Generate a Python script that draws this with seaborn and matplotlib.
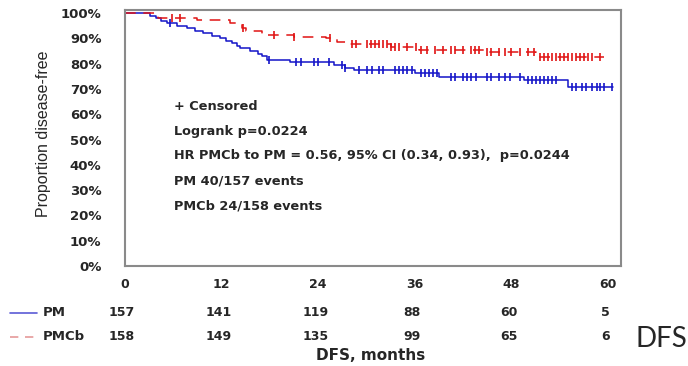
import numpy as np
import pandas as pd
import matplotlib
matplotlib.use("Agg")
import matplotlib.pyplot as plt
import seaborn as sns

# Kaplan-Meier step points (month, proportion disease-free, %)
pm_time = [0, 3.1, 3.8, 4.5, 5.2, 6.5, 7.7, 8.7, 9.7, 10.8, 11.8, 12.6, 13.3, 13.9,
           14.3, 15.5, 16.5, 17.0, 17.6, 20.5, 26.0, 27.3, 28.5, 36.0, 39.0, 49.5, 55.0]
pm_surv = [100, 99, 98, 97, 96, 95, 94, 93, 92, 91, 90, 89, 88, 87,
           86, 85, 84, 83, 81.5, 80.6, 79.5, 78.3, 77.5, 76.3, 74.7, 73.5, 70.8]
pm_end = 60.6

pmcb_time = [0, 4.1, 9.0, 13.0, 14.5, 15.0, 17.0, 21.0, 25.0, 26.3, 28.0, 33.0,
             36.5, 45.0, 51.0]
pmcb_surv = [100, 98, 97.2, 96, 94, 93, 91.3, 90.5, 90, 88.5, 87.6, 86.4,
             85.5, 84.7, 82.5]
pmcb_end = 59.5

# Censoring times (months)
pm_cens = [5.6, 17.9, 21.2, 21.8, 23.5, 24.0, 25.3, 27.0, 27.3, 29.0, 30.0, 30.7, 31.5,
           32.0, 33.5, 34.0, 34.5, 35.0, 35.7, 36.8, 37.3, 37.8, 38.3, 38.8, 40.5, 41.0,
           42.0, 42.5, 43.0, 43.6, 45.0, 45.5, 46.5, 47.2, 47.8, 49.0, 50.0, 50.5, 51.0,
           51.5, 52.0, 52.5, 53.0, 53.5, 55.5, 56.0, 56.8, 57.3, 58.0, 58.6, 59.0, 59.5, 60.5]
pmcb_cens = [5.8, 6.8, 14.6, 18.5, 21.0, 25.5, 28.2, 28.7, 30.0, 30.5, 31.0, 31.5, 32.0,
             32.5, 33.0, 33.5, 34.0, 35.0, 36.2, 36.7, 37.5, 38.5, 39.5, 40.5, 41.0, 42.0,
             43.0, 43.5, 44.0, 45.0, 45.5, 46.5, 47.2, 48.0, 49.0, 50.0, 50.8, 51.6, 52.0,
             52.5, 53.0, 53.5, 54.0, 54.5, 55.0, 55.5, 56.0, 56.5, 57.0, 57.5, 58.0, 59.0]

# Number at risk
risk_months = [0, 12, 24, 36, 48, 60]
pm_risk = [157, 141, 119, 88, 60, 5]
pmcb_risk = [158, 149, 135, 99, 65, 6]

y_ticks = list(range(0, 101, 10))
y_ticklabels = [f"{v}%" for v in y_ticks]

annotations = [
    "+ Censored",
    "Logrank p=0.0224",
    "HR PMCb to PM = 0.56, 95% CI (0.34, 0.93),  p=0.0244",
    "PM 40/157 events",
    "PMCb 24/158 events",
]

BLUE = "#1414c8"
RED = "#e01414"

sns.set_style("white")
plt.rcParams["font.family"] = ["DejaVu Sans"]

W, H = 688, 366
fig = plt.figure(figsize=(W / 100, H / 100), dpi=100)
ax = fig.add_axes([125 / W, 1 - 266 / H, (621 - 125) / W, (266 - 10) / H])


def steps(times, surv, end):
    return pd.DataFrame({"month": list(times) + [end], "surv": list(surv) + [surv[-1]]})


def surv_at(times, surv, t):
    idx = np.searchsorted(times, t, side="right") - 1
    return np.asarray(surv)[idx]


pm_df = steps(pm_time, pm_surv, pm_end)
pmcb_df = steps(pmcb_time, pmcb_surv, pmcb_end)

sns.lineplot(data=pm_df, x="month", y="surv", estimator=None, sort=False,
             drawstyle="steps-post", color=BLUE, linewidth=1.1, ax=ax)
sns.lineplot(data=pmcb_df, x="month", y="surv", estimator=None, sort=False,
             drawstyle="steps-post", color=RED, linewidth=1.1, dashes=False,
             linestyle=(0, (7, 5)), ax=ax)

pm_c = pd.DataFrame({"month": pm_cens, "surv": surv_at(pm_time, pm_surv, pm_cens)})
pmcb_c = pd.DataFrame({"month": pmcb_cens, "surv": surv_at(pmcb_time, pmcb_surv, pmcb_cens)})
sns.scatterplot(data=pm_c, x="month", y="surv", marker="|", s=40, linewidth=1.2,
                color=BLUE, ax=ax, zorder=3)
sns.scatterplot(data=pmcb_c, x="month", y="surv", marker="|", s=40, linewidth=1.2,
                color=RED, ax=ax, zorder=3)

ax.set_xlim(0, 61.6)
ax.set_ylim(0, 101.2)
ax.set_xticks(risk_months)
ax.set_xticklabels([str(m) for m in risk_months], fontweight="bold", fontsize=9)
ax.set_yticks(y_ticks)
ax.set_yticklabels(y_ticklabels, fontweight="bold", fontsize=9.5)
ax.tick_params(axis="y", direction="inout", length=6, width=1, color="#555555", pad=14)
ax.tick_params(axis="x", direction="inout", length=6, width=1, color="#555555", pad=6)
ax.set_xlabel("")
ax.set_ylabel("")
for sp in ax.spines.values():
    sp.set_color("#8a8a8a")
    sp.set_linewidth(1.5)
    sp.set_visible(True)


def fx(px):
    return px / W


def fy(py):
    return 1 - py / H


fig.text(fx(44), fy(134), "Proportion disease-free", rotation=90, ha="center",
         va="center", fontsize=11.5, family="Liberation Sans")

for i, line in enumerate(annotations):
    fig.text(fx(174), fy(106 + 25 * i), line, ha="left", va="center",
             fontsize=9.3, fontweight="bold")

# Number-at-risk table with legend keys
row_y = [313, 337]
fig.add_artist(plt.Line2D([fx(10), fx(37)], [fy(313), fy(313)], color="#5b5bd6",
                          linewidth=1.2))
fig.add_artist(plt.Line2D([fx(10), fx(37)], [fy(337), fy(337)], color="#e59a9a",
                          linewidth=1.2, linestyle=(0, (5, 4))))
fig.text(fx(43), fy(313), "PM", ha="left", va="center", fontsize=9.5, fontweight="bold")
fig.text(fx(43), fy(337), "PMCb", ha="left", va="center", fontsize=9.5, fontweight="bold")
for vals, yy in zip([pm_risk, pmcb_risk], row_y):
    for m, v in zip(risk_months, vals):
        xd = ax.transData.transform((m, 0))[0]
        fig.text(xd / W - 3 / W, fy(yy), str(v), ha="center", va="center", fontsize=9,
                 fontweight="bold")

fig.text(fx(371), fy(355), "DFS, months", ha="center", va="center", fontsize=11,
         fontweight="bold")
fig.text(fx(635), fy(339), "DFS", ha="left", va="center", fontsize=20, family="Lato")

fig.savefig("out.png", dpi=100)
